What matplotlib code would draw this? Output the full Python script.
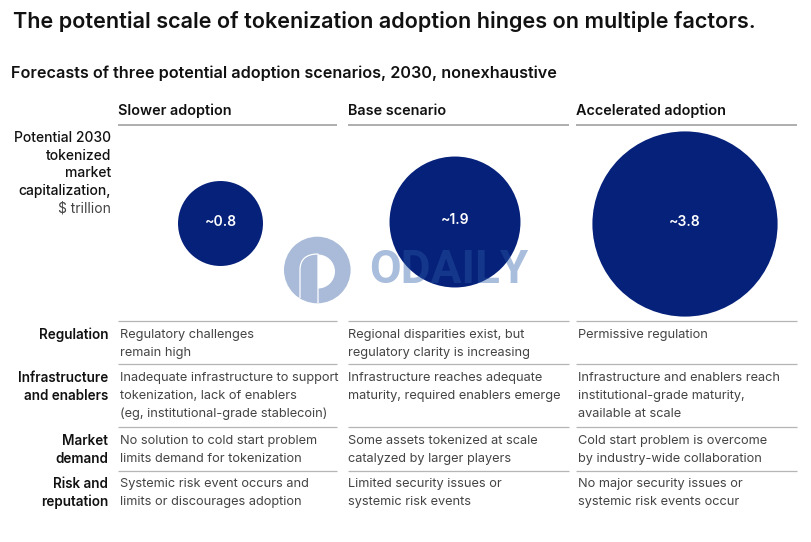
#!/usr/bin/env python3
import matplotlib
matplotlib.use("Agg")
import matplotlib.pyplot as plt
import numpy as np
from matplotlib.patches import Circle, PathPatch, Wedge
from matplotlib.path import Path

TITLE = "The potential scale of tokenization adoption hinges on multiple factors."
SUBTITLE = "Forecasts of three potential adoption scenarios, 2030, nonexhaustive"
SCENARIOS = ["Slower adoption", "Base scenario", "Accelerated adoption"]
VALUES = [0.8, 1.9, 3.8]
VALUE_LABELS = ["~0.8", "~1.9", "~3.8"]
ROW_LABELS = ["Regulation", "Infrastructure\nand enablers", "Market\ndemand", "Risk and\nreputation"]
SLOWER = [
    "Regulatory challenges\nremain high",
    "Inadequate infrastructure to support\ntokenization, lack of enablers\n(eg, institutional-grade stablecoin)",
    "No solution to cold start problem\nlimits demand for tokenization",
    "Systemic risk event occurs and\nlimits or discourages adoption",
]
BASE = [
    "Regional disparities exist, but\nregulatory clarity is increasing",
    "Infrastructure reaches adequate\nmaturity, required enablers emerge",
    "Some assets tokenized at scale\ncatalyzed by larger players",
    "Limited security issues or\nsystemic risk events",
]
ACCEL = [
    "Permissive regulation",
    "Infrastructure and enablers reach\ninstitutional-grade maturity,\navailable at scale",
    "Cold start problem is overcome\nby industry-wide collaboration",
    "No major security issues or\nsystemic risk events occur",
]

NAVY = "#06217a"
INK = "#111111"
GREY = "#444444"
RULE = "#b5b5b5"
FONT = "Inter"

COL_LEFT = [118, 348, 576]
COL_RIGHT = [337, 569, 797]
BODY_X = [120, 348, 578]
CENTERS = [(220.5, 223.5), (455, 222), (685, 224)]
ROW_BASE = [339, 382, 445, 488]
RULE_YS = [321, 364, 426.5, 470.5]
LINE = 18.0

plt.rcParams["font.family"] = [FONT, "DejaVu Sans"]

fig = plt.figure(figsize=(8.11, 5.42), dpi=100)
ax = fig.add_axes([0, 0, 1, 1])
ax.set_xlim(0, 811)
ax.set_ylim(542, 0)
ax.axis("off")

ax.text(13, 28, TITLE, fontsize=15.55, fontweight="semibold", color=INK, va="baseline")
ax.text(11, 78, SUBTITLE, fontsize=11.65, fontweight="semibold", color=INK, va="baseline")

for x0, x1, name in zip(COL_LEFT, COL_RIGHT, SCENARIOS):
    ax.text(x0, 115, name, fontsize=10.4, fontweight="semibold", color=INK, va="baseline")
    ax.plot([x0, x1], [124.5, 124.5], color="#999999", lw=1.1, solid_capstyle="butt")
    for y in RULE_YS:
        ax.plot([x0, x1], [y, y], color=RULE, lw=0.9, solid_capstyle="butt")

for y, txt in zip([141.5, 159.5, 177, 194.5], ["Potential 2030", "tokenized", "market", "capitalization,"]):
    ax.text(111, y, txt, fontsize=10, fontweight="medium", color=INK, ha="right", va="baseline")
ax.text(111, 212.5, "$ trillion", fontsize=10, color=GREY, ha="right", va="baseline")

# area scaled circles
for (cx, cy), v, lab in zip(CENTERS, VALUES, VALUE_LABELS):
    ax.add_patch(Circle((cx, cy), 47.5 * np.sqrt(v), facecolor=NAVY, edgecolor="none", zorder=2))
    ax.text(cx, cy - 2, lab, fontsize=10, fontweight="semibold", color="white", ha="center", va="center", zorder=3)

for i, base in enumerate(ROW_BASE):
    for y_off, part in enumerate(ROW_LABELS[i].split("\n")):
        ax.text(108, base + y_off * LINE, part, fontsize=9.7, fontweight="semibold", color=INK,
                ha="right", va="baseline")
    for x0, col in zip(BODY_X, [SLOWER, BASE, ACCEL]):
        for y_off, part in enumerate(col[i].split("\n")):
            ax.text(x0, base - 1 + y_off * LINE, part, fontsize=9.2, color=GREY, va="baseline")

# watermark
WM = "#2a5aa8"
ax.add_patch(Circle((317.3, 270), 33.3, facecolor="#a9bbd8", edgecolor="none", zorder=4))
ax.add_patch(Wedge((318, 271.5), 17, -90, 90, facecolor="white", edgecolor="none", zorder=5))
arch = Path(
    [(300, 298), (300, 270), (300, 254), (318, 254), (318, 303)],
    [Path.MOVETO, Path.LINETO, Path.CURVE3, Path.CURVE3, Path.LINETO],
)
ax.add_patch(PathPatch(arch, facecolor="none", edgecolor="white", lw=0.9, zorder=5))
ax.text(448.5, 270, "ODAILY", fontsize=33, fontweight="bold", color=WM, alpha=0.4,
        family=["Roboto", "DejaVu Sans"], ha="center", va="center", zorder=6)

fig.savefig("out.png", dpi=100)
